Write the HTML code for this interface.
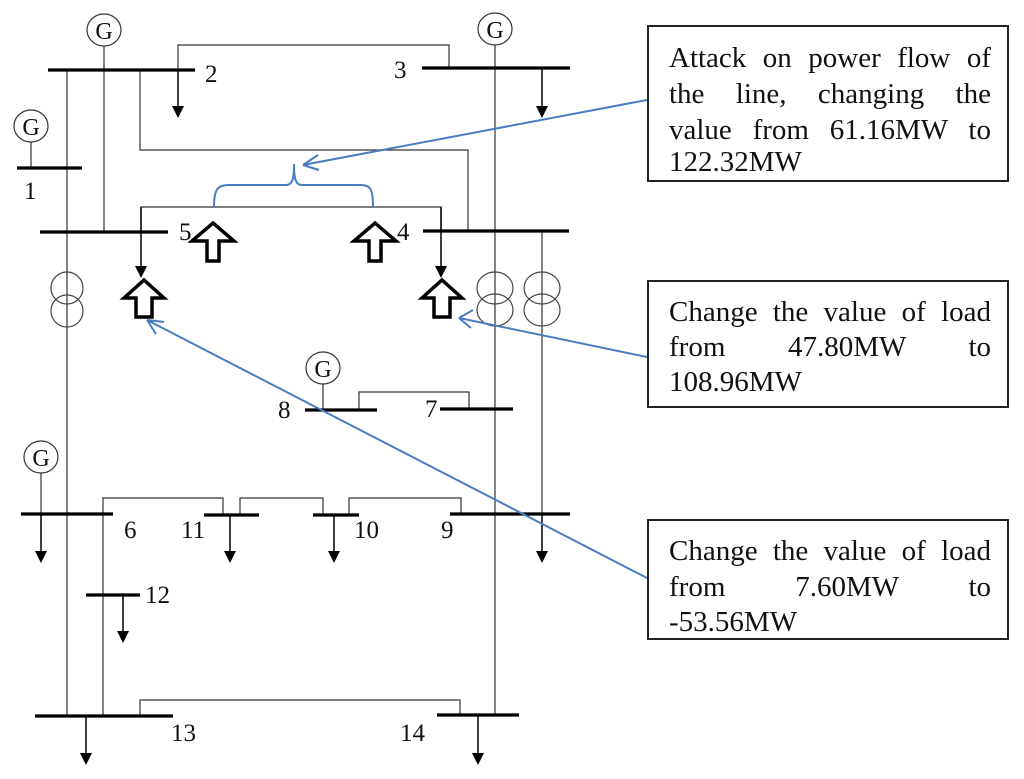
<!DOCTYPE html>
<html><head><meta charset="utf-8"><style>
body{margin:0;background:#fff;width:1024px;height:779px;overflow:hidden;position:relative;font-family:"Liberation Serif",serif;}
svg{position:absolute;left:0;top:0}
.box{position:absolute;left:647px;width:362px;border:2px solid #222;box-sizing:border-box;background:#fff}
.ln{position:absolute;left:20px;width:322px;font-size:29px;white-space:nowrap;line-height:36px;color:#111}
.j{text-align:justify;text-align-last:justify}
</style></head><body>
<svg width="1024" height="779" viewBox="0 0 1024 779">
<g stroke="#333" stroke-width="1.2" fill="none">
<path d="M67,70 V716"/>
<path d="M104,46 V232"/>
<path d="M495,45 V715"/>
<path d="M542,231 V514"/>
<path d="M178,70 V45 H449 V68"/>
<path d="M140,70 V150 H468 V231"/>
<path d="M141,232 V207 H441 V231"/>
<path d="M31,142 V168"/>
<path d="M323,384 V410"/>
<path d="M359,410 V392 H469 V409"/>
<path d="M41,473 V514"/>
<path d="M103,514 V716"/>
<path d="M103,514 V498 H223 V515"/>
<path d="M240,515 V498 H323 V515"/>
<path d="M349,515 V498 H461 V515"/>
<path d="M140,716 V700 H460 V716"/>
</g>
<g stroke="#000" stroke-width="1.5">
<line x1="178" y1="70" x2="178" y2="108"/>
<line x1="542" y1="68" x2="542" y2="108"/>
<line x1="141" y1="207" x2="141" y2="268"/>
<line x1="441" y1="207" x2="441" y2="268"/>
<line x1="41" y1="514" x2="41" y2="553"/>
<line x1="230" y1="515" x2="230" y2="553"/>
<line x1="334" y1="515" x2="334" y2="553"/>
<line x1="542" y1="514" x2="542" y2="553"/>
<line x1="123" y1="595" x2="123" y2="633"/>
<line x1="86" y1="716" x2="86" y2="755"/>
<line x1="478" y1="715" x2="478" y2="755"/>
</g>
<g fill="#000">
<path d="M172,106 L184,106 L178,118 Z"/>
<path d="M536,106 L548,106 L542,118 Z"/>
<path d="M135,266 L147,266 L141,278 Z"/>
<path d="M435,266 L447,266 L441,278 Z"/>
<path d="M35,551 L47,551 L41,563 Z"/>
<path d="M224,551 L236,551 L230,563 Z"/>
<path d="M328,551 L340,551 L334,563 Z"/>
<path d="M536,551 L548,551 L542,563 Z"/>
<path d="M117,631 L129,631 L123,643 Z"/>
<path d="M80,753 L92,753 L86,765 Z"/>
<path d="M472,753 L484,753 L478,765 Z"/>
</g>
<g stroke="#000" stroke-width="3.2">
<line x1="48" y1="70" x2="195" y2="70"/>
<line x1="422" y1="68" x2="570" y2="68"/>
<line x1="17" y1="168" x2="82" y2="168"/>
<line x1="40" y1="232" x2="168" y2="232"/>
<line x1="423" y1="231" x2="569" y2="231"/>
<line x1="305" y1="410" x2="377" y2="410"/>
<line x1="440" y1="409" x2="513" y2="409"/>
<line x1="21" y1="514" x2="113" y2="514"/>
<line x1="204" y1="515" x2="259" y2="515"/>
<line x1="313" y1="515" x2="359" y2="515"/>
<line x1="450" y1="514" x2="570" y2="514"/>
<line x1="86" y1="595" x2="140" y2="595"/>
<line x1="35" y1="716" x2="173" y2="716"/>
<line x1="437" y1="715" x2="519" y2="715"/>
</g>
<g stroke="#444" stroke-width="1.2" fill="none">
<ellipse cx="67" cy="288" rx="16" ry="16"/><ellipse cx="67" cy="311" rx="16" ry="16"/>
<ellipse cx="495" cy="288" rx="18" ry="16"/><ellipse cx="495" cy="310" rx="18" ry="16"/>
<ellipse cx="542" cy="288" rx="18" ry="16"/><ellipse cx="542" cy="310" rx="18" ry="16"/>
</g>
<g stroke="#333" stroke-width="1.2" fill="#fff">
<ellipse cx="104" cy="30" rx="17" ry="16"/>
<ellipse cx="495" cy="29" rx="17" ry="16"/>
<ellipse cx="31" cy="126" rx="17" ry="16"/>
<ellipse cx="323" cy="368" rx="17" ry="16"/>
<ellipse cx="41" cy="457" rx="17" ry="16"/>
</g>
<g font-family="Liberation Serif, serif" font-size="24" fill="#111" text-anchor="middle">
<text x="104" y="39">G</text><text x="495" y="38">G</text><text x="31" y="135">G</text>
<text x="323" y="377">G</text><text x="41" y="466">G</text>
</g>
<g font-family="Liberation Serif, serif" font-size="25" fill="#111">
<text x="205" y="82">2</text>
<text x="394" y="78">3</text>
<text x="24" y="199">1</text>
<text x="179" y="240">5</text>
<text x="397" y="240">4</text>
<text x="278" y="418">8</text>
<text x="425" y="417">7</text>
<text x="124" y="538">6</text>
<text x="181" y="538">11</text>
<text x="354" y="538">10</text>
<text x="441" y="538">9</text>
<text x="145" y="603">12</text>
<text x="171" y="741">13</text>
<text x="400" y="741">14</text>
</g>
<g stroke="#000" stroke-width="3.5" fill="#fff" stroke-linejoin="miter">
<path d="M213,223 L234,241 L219,241 L219,261 L207,261 L207,241 L192,241 Z"/>
<path d="M375,223 L396,241 L381,241 L381,261 L369,261 L369,241 L354,241 Z"/>
<path d="M144,280 L164,298 L152,298 L152,317 L136,317 L136,298 L124,298 Z"/>
<path d="M442,280 L462,298 L450,298 L450,317 L434,317 L434,298 L422,298 Z"/>
</g>
<g stroke="#4a7cc0" stroke-width="2" fill="none">
<path d="M214,207 C214,188 218,185 230,185 L286,185 C292,185 294,180 294,164 C294,180 296,185 302,185 L360,185 C370,185 373,188 373,207"/>
<path d="M647,100 L303,165 M303,165 L318,155 M303,165 L319,170"/>
<path d="M647,357 L459,318 M459,318 L473,310 M459,318 L471,328"/>
<path d="M647,578 L147,320 M147,320 L164,322 M147,320 L156,334"/>
</g>
</svg>
<div class="box" style="top:25px;height:157px">
<div class="ln j" style="top:13px">Attack on power flow of</div>
<div class="ln j" style="top:49px">the line, changing the</div>
<div class="ln j" style="top:85px">value from 61.16MW to</div>
<div class="ln" style="top:117px">122.32MW</div>
</div>
<div class="box" style="top:280px;height:128px">
<div class="ln j" style="top:12px">Change the value of load</div>
<div class="ln j" style="top:47px">from 47.80MW to</div>
<div class="ln" style="top:82px">108.96MW</div>
</div>
<div class="box" style="top:519px;height:121px">
<div class="ln j" style="top:12px">Change the value of load</div>
<div class="ln j" style="top:48px">from 7.60MW to</div>
<div class="ln" style="top:83px">-53.56MW</div>
</div>
</body></html>
